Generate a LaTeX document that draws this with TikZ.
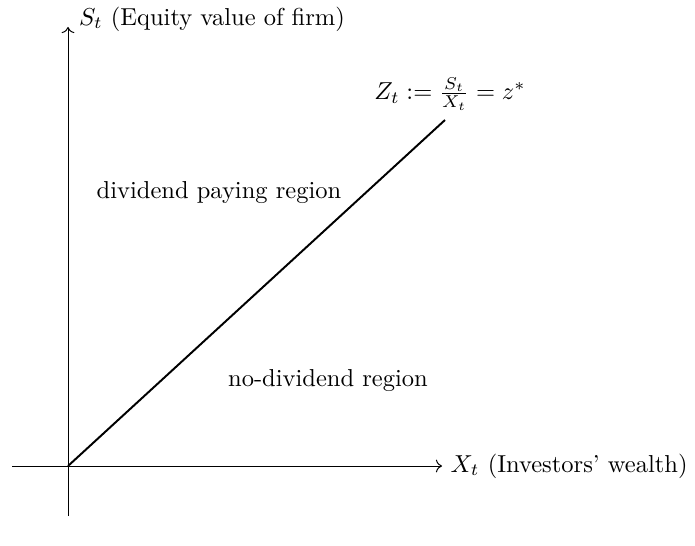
\documentclass[tikz,border=0pt]{standalone}
\usetikzlibrary{arrows.meta}

\begin{document}
\begin{tikzpicture}[x=0.408pt, y=0.408pt, font=\normalsize]

% Frame
\useasboundingbox (-68,-79) rectangle (627,466);

% Points
\coordinate (origin) at (0,0);
\coordinate (xleft) at (-56,0);
\coordinate (xright) at (374,0);
\coordinate (ybottom) at (0,-50);
\coordinate (ytop) at (0,439);
\coordinate (boundary) at (377,346);

% Axes
\draw[->] (xleft) -- (xright) node[right] (xlabel) {$X_t$ (Investors' wealth)};
\draw[->] (ybottom) -- (ytop) node[right, yshift=8pt*0.408, xshift=1pt] (ylabel) {$S_t$ (Equity value of firm)};

% Boundary z*
\draw[thick] (origin) -- (boundary);
\node (zlabel) at (382,372) {$Z_t \mathrel{:=} \frac{S_t}{X_t} = z^*$};

% Regions
\node (paying) at (151,273) {dividend paying region};
\node (nopaying) at (260,85) {no-dividend region};

\end{tikzpicture}
\end{document}
